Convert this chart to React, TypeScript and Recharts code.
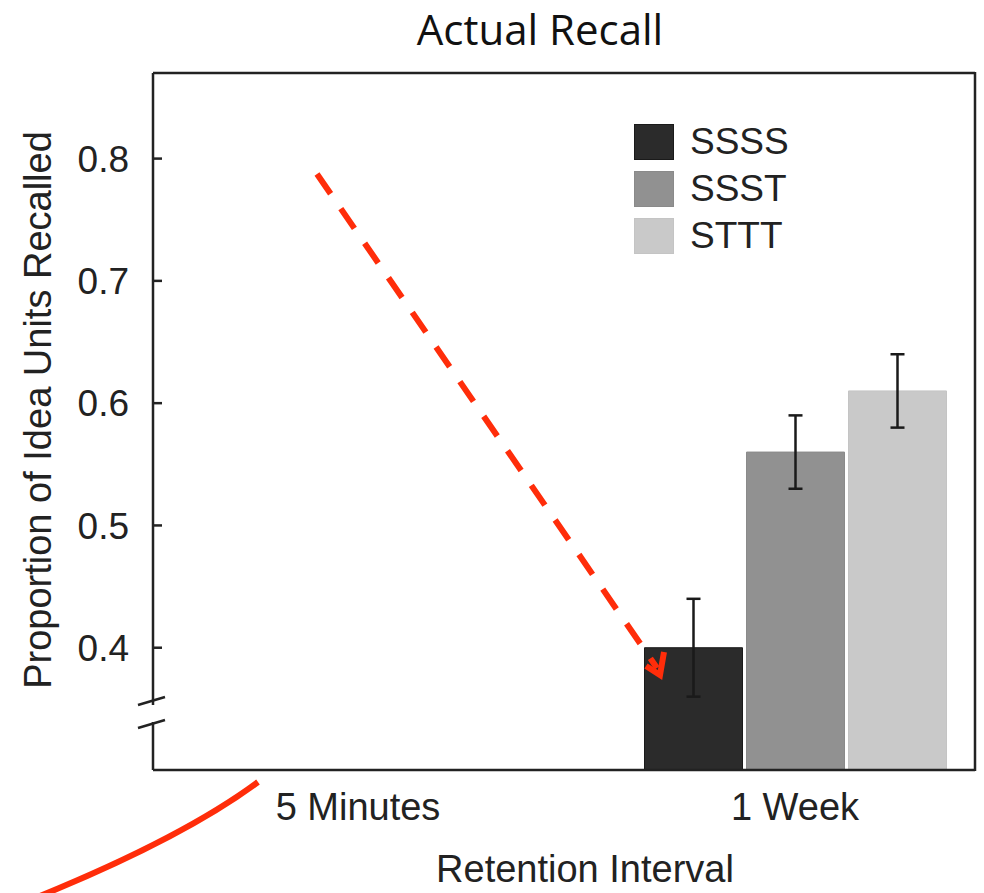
import React from 'react';
import { BarChart, Bar, XAxis, YAxis, Legend, ErrorBar, ReferenceLine } from 'recharts';

const intervals = ['5 Minutes', '1 Week'];
const ssss = [null, 0.4];
const ssst = [null, 0.56];
const sttt = [null, 0.61];
const ssssErr = [null, 0.04];
const ssstErr = [null, 0.03];
const stttErr = [null, 0.03];
const yTicks = [0.4, 0.5, 0.6, 0.7, 0.8];

const series = [
  { key: 'SSSS', err: 'SSSSErr', color: '#2b2b2b', border: '#1a1a1a' },
  { key: 'SSST', err: 'SSSTErr', color: '#919191', border: '#8a8a8a' },
  { key: 'STTT', err: 'STTTErr', color: '#c9c9c9', border: '#c4c4c4' },
];

const data = intervals.map((name, i) => ({
  name,
  SSSS: ssss[i],
  SSST: ssst[i],
  STTT: sttt[i],
  SSSSErr: ssssErr[i],
  SSSTErr: ssstErr[i],
  STTTErr: stttErr[i],
}));

const FONT = '"Liberation Sans", Arial, sans-serif';
const INK = '#222';
const RED = '#ff2d0a';

function YTick(props: any) {
  const { x, y, payload } = props;
  return (
    <g>
      <line x1={x} y1={y} x2={x + 9} y2={y} stroke={INK} strokeWidth={2.5} />
      <text x={x - 24} y={y} dy="0.36em" textAnchor="end" fontFamily={FONT} fontSize={37} fill={INK}>
        {payload.value.toFixed(1)}
      </text>
    </g>
  );
}

function XTick(props: any) {
  const { x, y, payload } = props;
  return (
    <text x={x} y={y + 50} textAnchor="middle" fontFamily={FONT} fontSize={38} fill={INK}>
      {payload.value}
    </text>
  );
}

function LegendBox() {
  return (
    <div style={{ fontFamily: FONT, fontSize: 37, color: INK }}>
      {series.map((s) => (
        <div key={s.key} style={{ display: 'flex', alignItems: 'center', height: 47 }}>
          <div
            style={{
              width: 38,
              height: 34,
              background: s.color,
              border: `1px solid ${s.border}`,
              marginRight: 16,
            }}
          />
          <span style={{ lineHeight: '47px' }}>{s.key}</span>
        </div>
      ))}
    </div>
  );
}

export default function App() {
  return (
    <div style={{ position: 'absolute', left: 0, top: 0, width: 984, height: 893, background: '#fff' }}>
      <div
        style={{
          position: 'absolute',
          left: 0,
          top: 0,
          width: 1080,
          textAlign: 'center',
          fontFamily: '"Open Sans", sans-serif',
          fontSize: 42,
          lineHeight: '58px',
          color: '#111',
        }}
      >
        Actual Recall
      </div>
      <div style={{ position: 'absolute', left: 0, top: 0 }}>
        <BarChart
          width={984}
          height={893}
          data={data}
          margin={{ top: 73, right: 9, bottom: 122, left: 152 }}
          barSize={98}
          barGap={4}
        >
          <XAxis
            dataKey="name"
            height={1}
            padding={{ left: -13.5, right: -38.5 }}
            tickLine={false}
            tickSize={0}
            tickMargin={0}
            axisLine={{ stroke: INK, strokeWidth: 2.5 }}
            tick={<XTick />}
            interval={0}
          />
          <YAxis
            width={1}
            domain={[0.3, 0.87]}
            ticks={yTicks}
            allowDataOverflow
            tickLine={false}
            tickSize={0}
            tickMargin={0}
            axisLine={{ stroke: INK, strokeWidth: 2.5 }}
            tick={<YTick />}
          />
          <ReferenceLine y={0.87} stroke={INK} strokeWidth={2.5} />
          <Legend
            layout="vertical"
            align="center"
            verticalAlign="middle"
            content={<LegendBox />}
            wrapperStyle={{ position: 'absolute', left: 634, top: 118, width: 200 }}
          />
          {series.map((s) => (
            <Bar key={s.key} dataKey={s.key} fill={s.color} stroke={s.border} strokeWidth={1} isAnimationActive={false}>
              <ErrorBar dataKey={s.err} width={7} stroke="#1a1a1a" strokeWidth={2.5} isAnimationActive={false} />
            </Bar>
          ))}
        </BarChart>
      </div>
      <svg
        width={984}
        height={893}
        style={{ position: 'absolute', left: 0, top: 0, pointerEvents: 'none' }}
      >
        {/* right border of the frame */}
        <line x1={975} y1={72} x2={975} y2={771} stroke={INK} strokeWidth={2.5} />
        {/* axis break */}
        <rect x={150} y={705} width={6} height={17} fill="#fff" />
        <line x1={138} y1={705} x2={165} y2={697} stroke={INK} strokeWidth={2.5} />
        <line x1={138} y1={728} x2={165} y2={720} stroke={INK} strokeWidth={2.5} />
        {/* axis titles */}
        <text x={585} y={882} textAnchor="middle" fontFamily={FONT} fontSize={38} fill={INK}>
          Retention Interval
        </text>
        <text
          transform="translate(51,410) rotate(-90)"
          textAnchor="middle"
          fontFamily={FONT}
          fontSize={38}
          fill={INK}
        >
          Proportion of Idea Units Recalled
        </text>
        {/* red annotations */}
        <line
          x1={317}
          y1={174}
          x2={657}
          y2={668}
          stroke={RED}
          strokeWidth={6}
          strokeDasharray="24 18"
        />
        <polyline points="646,666 660,675 664,652" fill="none" stroke={RED} strokeWidth={6} />
        <path d="M258,782 Q184,837 40,896" fill="none" stroke={RED} strokeWidth={6} />
      </svg>
    </div>
  );
}
